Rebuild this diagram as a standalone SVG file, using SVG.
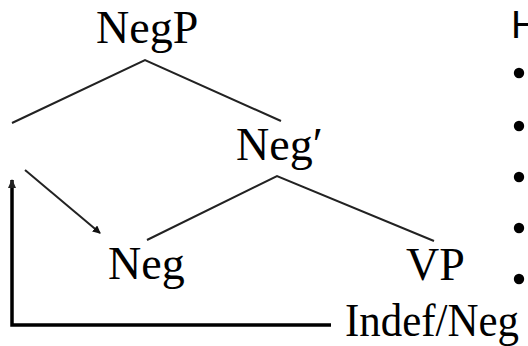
<svg xmlns="http://www.w3.org/2000/svg" width="528" height="346" viewBox="0 0 528 346">
<style>
.lbl{font-family:"Liberation Serif","Times New Roman",serif;font-size:46px;fill:#000}
.tree{stroke:#222;stroke-width:2;fill:none}
.thick{stroke:#000;stroke-width:3.5;fill:none}
</style>
<defs>
<marker id="ah" markerWidth="8" markerHeight="8" refX="7" refY="4" orient="auto" markerUnits="userSpaceOnUse">
<path d="M0,0 L8,4 L0,8 Z" fill="#111"/>
</marker>
<marker id="ah2" markerWidth="10" markerHeight="10" refX="8" refY="5" orient="auto" markerUnits="userSpaceOnUse">
<path d="M0,1 L9,5 L0,9 Z" fill="#222"/>
</marker>
</defs>
<rect width="528" height="346" fill="#fff"/>
<g id="connectors">
<polyline class="tree" points="12,123 145,60 281,121"/>
<polyline class="tree" points="147,240 277,176 434,241"/>
<line class="tree" x1="25" y1="170" x2="100" y2="233" marker-end="url(#ah)"/>
<polyline class="thick" points="331,325 12,325 12,180" marker-end="url(#ah2)"/>
</g>
<g id="NegP"><text class="lbl" x="96" y="43">NegP</text></g>
<g id="NegBar"><text class="lbl" x="236" y="160">Neg′</text></g>
<g id="Neg"><text class="lbl" x="108" y="279">Neg</text></g>
<g id="VP"><text class="lbl" x="406" y="280">VP</text></g>
<g id="IndefNeg"><text class="lbl" x="345" y="336" textLength="174" lengthAdjust="spacingAndGlyphs">Indef/Neg</text></g>
<g id="sidetext">
<text x="511" y="38" font-family="Liberation Sans, Arial, sans-serif" font-size="39" fill="#000">H</text>
<circle cx="519" cy="73" r="5.2" fill="#000"/>
<circle cx="519" cy="126" r="5.2" fill="#000"/>
<circle cx="519" cy="177" r="5.2" fill="#000"/>
<circle cx="519" cy="228" r="5.2" fill="#000"/>
<circle cx="519" cy="279" r="5.2" fill="#000"/>
</g>
</svg>
